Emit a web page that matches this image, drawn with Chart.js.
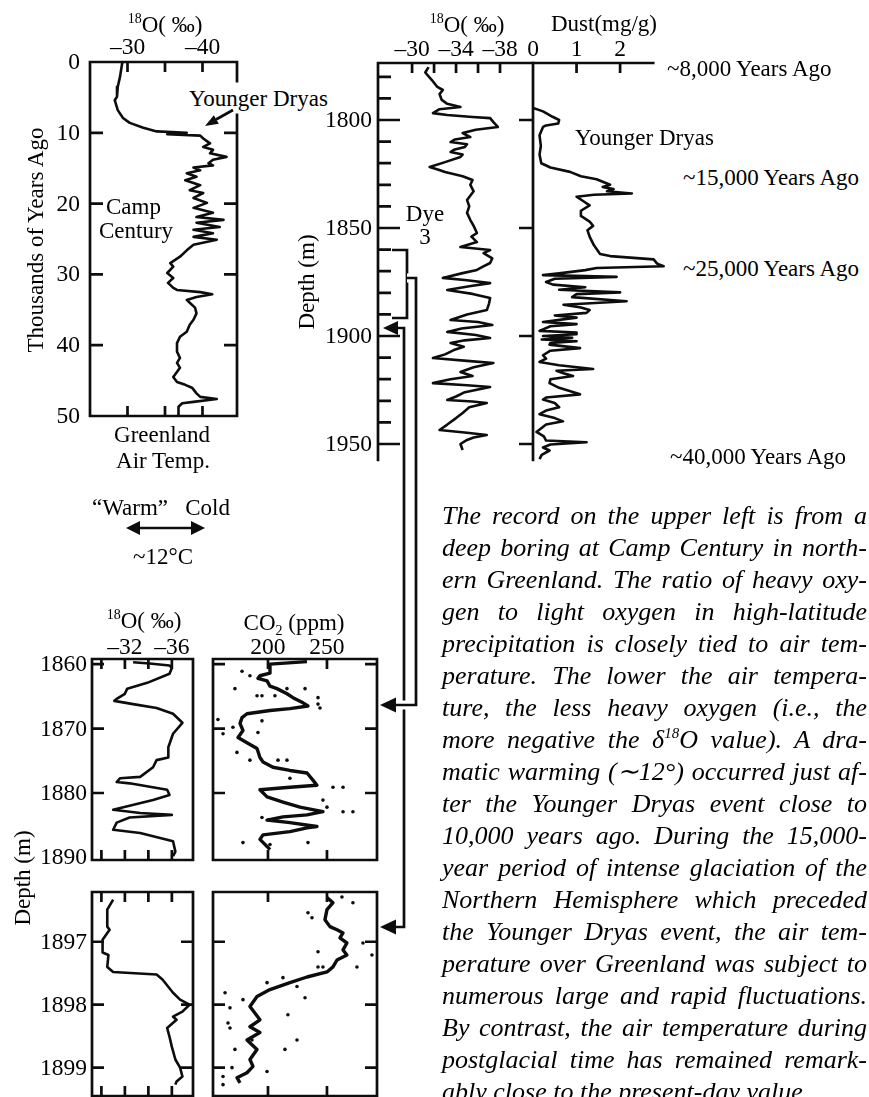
<!DOCTYPE html>
<html>
<head>
<meta charset="utf-8">
<title>Greenland ice cores</title>
<script src="https://cdn.jsdelivr.net/npm/chart.js@4.4.1/dist/chart.umd.min.js"></script>
<style>
  html, body { margin: 0; padding: 0; background: #fff; }
  #page { position: relative; width: 869px; height: 1097px; overflow: hidden; background: #fff;
          font-family: 'Liberation Serif', 'Times New Roman', serif; color: #000; }
  canvas { position: absolute; }
  svg { position: absolute; left: 0; top: 0; }
  .lbl { position: absolute; white-space: nowrap; line-height: 1; font-size: 23px; }
  .tick { font-size: 23.5px; }
  .lbl sup { font-size: 14px; vertical-align: 9px; line-height: 0; }
  .para { position: absolute; left: 442px; width: 425px; height: 32px; line-height: 32px;
          font-style: italic; font-size: 26px; white-space: nowrap;
          text-align: justify; text-align-last: justify; }
  .para.last { text-align-last: left; }
  .para sup { font-size: 15px; vertical-align: 10px; line-height: 0; }
</style>
</head>
<body>
<div id="page"></div>
<script>
const INK = '#0d0d0d';
const PAD = 14;

// Camp Century: age (thousands of years) vs delta 18O (per mil)
const campAge = [0.1, 2.1, 3.5, 4.9, 5.4, 6.8, 7.9, 8.6, 9.3, 9.8,
                 10.0, 10.2, 10.4, 10.8, 11.5, 12.0, 12.4, 12.9, 13.4, 13.8,
                 14.3, 14.6, 14.9, 15.3, 15.7, 16.2, 16.7, 17.4, 18.1, 18.5,
                 19.2, 19.9, 20.6, 21.3, 21.9, 22.3, 22.7, 23.3, 23.7, 24.2,
                 24.7, 25.1, 25.8, 26.6, 27.5, 28.4, 28.9, 29.8, 30.5, 31.2,
                 31.9, 32.2, 32.5, 32.8, 33.2, 33.6, 34.0, 34.7, 35.5, 36.4,
                 37.1, 38.1, 38.8, 39.7, 40.9, 41.8, 42.5, 43.2, 44.5, 45.2,
                 45.6, 46.0, 46.8, 47.3, 47.6, 48.0, 48.2, 48.7, 50.0];
const campO18 = [-29.3, -29.0, -28.7, -28.6, -28.3, -28.7, -29.4, -30.3, -32.1, -33.9,
                 -37.9, -35.3, -39.7, -40.1, -41.0, -40.1, -41.4, -41.0, -43.2, -41.4,
                 -40.8, -41.4, -38.8, -39.7, -37.9, -39.2, -37.7, -39.7, -38.3, -40.1,
                 -38.8, -40.6, -38.8, -41.4, -39.2, -42.8, -39.2, -42.3, -38.8, -41.4,
                 -38.8, -41.9, -38.8, -37.9, -37.0, -35.7, -36.1, -35.3, -36.1, -35.4,
                 -36.1, -36.6, -39.7, -41.3, -39.2, -37.9, -38.3, -39.0, -39.2, -38.8,
                 -38.3, -37.9, -37.0, -36.6, -36.6, -37.0, -36.6, -37.0, -36.1, -36.6,
                 -37.7, -38.6, -39.2, -39.7, -41.9, -38.8, -37.3, -36.8, -36.8];

// Dye 3: depth (m) vs delta 18O
const dyeDepth = [1775.5, 1778, 1781.5, 1784.7, 1786.1, 1788, 1790.7, 1792.5, 1794.0, 1795,
                  1796.8, 1797.7, 1798.6, 1799.1, 1801, 1803.2, 1804.5, 1806.0, 1807.9, 1809,
                  1810.2, 1811.2, 1812.5, 1813.8, 1814.8, 1816, 1817.1, 1819.5, 1821.8, 1823,
                  1824.1, 1826, 1827.8, 1830, 1833, 1837.0, 1840, 1843, 1846.3, 1849,
                  1852.3, 1854, 1856.5, 1858.8, 1860.2, 1861.6, 1864, 1866.2, 1868, 1869.4,
                  1871, 1873.1, 1874.2, 1875.5, 1877, 1878.7, 1880.5, 1882.4, 1885, 1888.0,
                  1890, 1892.6, 1893.5, 1894.9, 1896.5, 1898.1, 1899.5, 1900.9, 1902, 1903.2,
                  1905, 1906.5, 1908.5, 1910.2, 1911.5, 1912.5, 1914.5, 1916.7, 1918.5, 1920,
                  1921.8, 1922.8, 1923.6, 1926, 1928, 1929.6, 1930.3, 1931.0, 1933, 1935.6,
                  1938, 1941, 1943.5, 1944.8, 1945.8, 1947, 1948.1, 1950, 1952.8];
const dyeO18 = [-31.5, -31.2, -31.8, -32.3, -32.8, -32.5, -32.7, -33.2, -34.4, -32.5,
                -31.9, -33.2, -35.5, -37.1, -37.4, -37.8, -35.8, -34.6, -35.3, -33.9,
                -33.5, -35.0, -34.8, -33.8, -33.5, -34.6, -34.4, -33.0, -31.6, -32.4,
                -33.0, -34.6, -35.5, -35.3, -35.6, -35.0, -35.2, -35.0, -35.3, -35.6,
                -35.9, -35.4, -35.9, -34.4, -37.1, -36.5, -37.3, -37.1, -36.4, -35.9,
                -34.5, -32.8, -35.0, -37.1, -35.2, -33.2, -35.5, -37.1, -37.0, -36.8,
                -35.0, -33.5, -36.0, -37.3, -34.5, -33.2, -35.8, -37.1, -34.8, -33.5,
                -34.7, -33.8, -33.0, -31.9, -35.0, -37.4, -35.6, -34.4, -35.5, -33.5,
                -31.9, -35.0, -37.1, -34.8, -34.0, -33.2, -35.5, -36.8, -35.2, -34.6,
                -34.0, -33.2, -32.5, -35.0, -36.8, -35.6, -35.0, -34.4, -34.6];

// Dye 3: depth (m) vs dust (mg/g)
const dustDepth = [1794.4, 1796.0, 1798.5, 1800.0, 1801.6, 1802.5, 1803.2, 1807.0, 1812, 1816,
                   1820.0, 1822, 1824.0, 1826, 1827.4, 1830.0, 1831, 1832.0, 1833, 1834.0,
                   1834.6, 1835.5, 1837.5, 1839.5, 1842, 1844.4, 1847, 1849.0, 1851, 1854.0,
                   1858, 1862.0, 1863.0, 1864.5, 1866.5, 1867.7, 1868.5, 1869.5, 1871.0, 1871.8,
                   1872.6, 1873.5, 1875.0, 1876.2, 1877.4, 1878.6, 1879.8, 1880.6, 1882, 1883.9,
                   1885.5, 1886.8, 1888.0, 1889.3, 1890.5, 1891.5, 1893.5, 1894.5, 1895.5, 1897.6,
                   1898.4, 1899.2, 1900.0, 1900.8, 1901.6, 1902.4, 1903.2, 1904.0, 1905.6, 1906.8,
                   1908.9, 1910.5, 1912.0, 1913.5, 1915.3, 1916.1, 1917.2, 1918.5, 1920, 1921.8,
                   1924, 1927.0, 1928.5, 1929.4, 1931, 1933.0, 1934.5, 1936.2, 1938, 1939.5,
                   1941, 1944.4, 1946.5, 1948.4, 1949.2, 1950.2, 1951.6, 1953.0, 1955, 1957.0];
const dustConc = [0.00, 0.23, 0.45, 0.60, 0.58, 0.30, 0.23, 0.15, 0.18, 0.15,
                  0.19, 0.40, 0.85, 1.10, 1.46, 1.77, 1.60, 1.85, 1.70, 2.27,
                  1.40, 1.00, 1.15, 1.30, 1.10, 1.10, 1.30, 1.38, 1.25, 1.30,
                  1.40, 1.54, 1.77, 2.77, 2.85, 3.00, 1.46, 1.20, 0.60, 0.23,
                  1.92, 0.50, 0.30, 0.46, 1.20, 0.60, 2.00, 1.00, 0.90, 2.15,
                  0.70, 1.10, 1.30, 1.23, 0.50, 1.00, 0.23, 1.00, 0.40, 0.15,
                  1.00, 1.00, 0.23, 0.90, 0.20, 1.00, 0.40, 0.38, 1.08, 0.40,
                  0.23, 0.30, 0.15, 0.60, 1.38, 0.54, 0.70, 0.92, 0.40, 0.38,
                  0.60, 1.08, 0.30, 0.23, 0.50, 0.60, 0.30, 0.15, 0.50, 0.69,
                  0.30, 0.08, 0.25, 0.30, 1.23, 0.40, 0.23, 0.38, 0.20, 0.15];

// detailed core sections, 1860-1890 m
const upO18Depth = [1859.7, 1859.9, 1860.2, 1860.6, 1861.5, 1862.9, 1863.8, 1864.6, 1865.4, 1865.7,
                    1866.2, 1866.8, 1867.7, 1869.1, 1870.8, 1872.9, 1874.5, 1874.9, 1876.0, 1877.5,
                    1877.7, 1878.3, 1878.5, 1879.5, 1880.3, 1881.1, 1882.6, 1883.1, 1883.4, 1883.8,
                    1884.6, 1885.7, 1886.2, 1887.5, 1889.1, 1889.8];
const upO18 = [-32.7, -34.1, -35.8, -36.0, -35.8, -33.9, -32.2, -32.0, -31.3, -31.1,
               -32.7, -34.7, -36.1, -36.9, -36.1, -35.7, -35.7, -34.7, -34.4, -33.3,
               -31.6, -31.3, -32.4, -35.6, -35.8, -34.4, -31.0, -33.3, -36.0, -32.4,
               -31.3, -31.0, -33.3, -36.1, -36.3, -36.1];

const upCo2Depth = [1859.6, 1860.0, 1860.6, 1861.4, 1861.8, 1862.2, 1862.6, 1863.4, 1863.8, 1864.6,
                    1865.2, 1866.0, 1866.5, 1866.9, 1867.2, 1867.7, 1868.3, 1869.2, 1870.3, 1871.4,
                    1872.2, 1873.1, 1874.5, 1875.2, 1876.0, 1876.5, 1876.9, 1878.0, 1878.8, 1879.1,
                    1879.5, 1880.6, 1881.4, 1882.2, 1882.9, 1883.4, 1883.7, 1884.2, 1884.6, 1885.2,
                    1885.4, 1886.0, 1886.5, 1887.2, 1888.3, 1888.8];
const upCo2 = [233.0, 201.7, 201.7, 201.7, 193.2, 191.5, 199.2, 201.7, 207.6, 216.1,
               221.2, 229.7, 233.9, 218.6, 201.7, 182.2, 178.0, 176.3, 178.8, 174.6,
               182.2, 190.7, 193.2, 195.8, 204.2, 218.6, 233.1, 238.1, 241.5, 218.6,
               193.2, 199.2, 212.7, 227.1, 246.6, 233.1, 212.7, 199.2, 218.6, 241.5,
               233.1, 218.6, 195.8, 193.2, 199.2, 201.7];
const upCo2DotDepth = [1861.1, 1861.8, 1863.8, 1864.9, 1864.9, 1864.9, 1863.8, 1863.8, 1865.2, 1866.2,
                       1866.8, 1868.6, 1870.8, 1869.8, 1868.8, 1870.6, 1873.7, 1874.9, 1874.9, 1874.9,
                       1877.7, 1879.1, 1879.1, 1881.1, 1882.2, 1882.9, 1882.9, 1883.8, 1887.7, 1887.7,
                       1888.0];
const upCo2Dot = [178.0, 184.7, 172.0, 190.7, 194.9, 205.9, 216.1, 231.4, 242.4, 242.4,
                  244.1, 157.6, 161.9, 170.3, 194.9, 191.5, 173.7, 184.7, 208.5, 216.1,
                  218.6, 255.1, 263.6, 246.6, 250.0, 263.6, 272.0, 194.9, 178.8, 233.9,
                  201.7];

// detailed core sections, 1896-1899.5 m
const loO18Depth = [1896.33, 1896.49, 1896.76, 1896.81, 1896.97, 1897.17, 1897.21, 1897.40, 1897.48, 1897.52,
                    1897.60, 1897.81, 1897.92, 1898.00, 1898.11, 1898.19, 1898.24, 1898.37, 1898.51, 1898.67,
                    1898.87, 1899.00, 1899.14, 1899.22, 1899.27];
const loO18 = [-31.0, -30.5, -30.5, -30.7, -30.1, -30.1, -30.6, -30.5, -31.0, -34.7,
               -35.2, -36.1, -36.7, -37.5, -36.9, -36.1, -36.4, -35.6, -35.8, -36.0,
               -36.3, -36.7, -36.9, -36.4, -36.3];

const loCo2Depth = [1896.30, 1896.38, 1896.49, 1896.65, 1896.76, 1896.81, 1896.86, 1896.94, 1897.02, 1897.13,
                    1897.21, 1897.29, 1897.40, 1897.48, 1897.56, 1897.65, 1897.76, 1897.87, 1898.03, 1898.24,
                    1898.35, 1898.44, 1898.56, 1898.71, 1898.87, 1898.98, 1899.08, 1899.16, 1899.24];
const loCo2 = [250.0, 255.1, 250.0, 248.3, 252.5, 258.5, 263.6, 261.0, 266.9, 263.6,
               266.9, 258.5, 255.1, 250.0, 233.1, 218.6, 201.7, 190.7, 184.7, 193.2,
               184.7, 193.2, 182.2, 190.7, 184.7, 187.3, 182.2, 173.7, 176.3];
const loCo2DotDepth = [1896.29, 1896.38, 1896.54, 1896.62, 1897.16, 1897.40, 1897.40, 1897.40, 1897.02, 1897.21,
                       1897.89, 1898.16, 1898.56, 1898.71, 1897.65, 1897.57, 1897.71, 1897.81, 1898.05, 1898.29,
                       1898.37, 1897.92, 1898.56, 1898.71, 1899.00, 1899.06, 1899.14, 1899.27];
const loCo2Dot = [262.7, 272.0, 233.9, 237.3, 242.4, 242.4, 246.6, 275.4, 280.5, 288.1,
                  231.4, 216.9, 224.6, 214.4, 199.2, 212.7, 224.6, 163.6, 167.8, 166.1,
                  167.8, 178.8, 186.4, 172.0, 169.5, 199.2, 161.9, 161.9];

// tick values and labels
const campAgeTicks = [0, 10, 20, 30, 40, 50];
const campO18Ticks = [-30, -35, -40];
const campO18Labels = [-30, -40];
const dyeDepthTicks = [1780, 1790, 1800, 1810, 1820, 1830, 1840, 1850, 1860, 1870,
                       1880, 1890, 1900, 1910, 1920, 1930, 1940, 1950];
const dyeDepthLabels = [1800, 1850, 1900, 1950];
const dyeO18Ticks = [-30, -32, -34, -36, -38];
const dyeO18Labels = [-30, -34, -38];
const dustTicks = [1, 2];
const dustLabels = [0, 1, 2];
const coreO18Ticks = [-30, -32, -34, -36];
const coreO18Labels = [-32, -36];
const co2Ticks = [200, 250];
const upDepthTicks = [1860, 1870, 1880];
const upDepthLabels = [1860, 1870, 1880, 1890];
const loDepthTicks = [1897, 1898, 1899];

const page = document.getElementById('page');

function pairs(ys, xs) {
  return xs.map((v, i) => ({ x: v, y: ys[i] }));
}

function line(data, width) {
  return { data, showLine: true, borderColor: INK, borderWidth: width || 2.6,
           pointRadius: 0, tension: 0, fill: false, borderJoinStyle: 'round' };
}

function dots(data) {
  return { data, showLine: false, pointRadius: 1.8, pointBackgroundColor: INK,
           pointBorderWidth: 0 };
}

// box border and inward tick marks, placed with the chart scales
const framePlugin = {
  id: 'frame',
  afterDatasetsDraw(chart, args, o) {
    const { ctx, chartArea: a } = chart;
    const sx = chart.scales.x, sy = chart.scales.y;
    ctx.save();
    ctx.strokeStyle = INK;
    ctx.lineWidth = 2.7;
    ctx.lineCap = 'square';
    ctx.beginPath();
    (o.sides || []).forEach(s => {
      if (s === 'top') {
        ctx.moveTo(a.left, a.top);
        ctx.lineTo(o.topTo != null ? sx.getPixelForValue(o.topTo) : a.right, a.top);
      }
      if (s === 'bottom') { ctx.moveTo(a.left, a.bottom); ctx.lineTo(a.right, a.bottom); }
      if (s === 'left') { ctx.moveTo(a.left, a.top); ctx.lineTo(a.left, a.bottom); }
      if (s === 'right') { ctx.moveTo(a.right, a.top); ctx.lineTo(a.right, a.bottom); }
    });
    ctx.stroke();
    ctx.lineCap = 'butt';
    ctx.beginPath();
    (o.ticks || []).forEach(t => {
      t.values.forEach(v => {
        const len = typeof t.len === 'function' ? t.len(v) : t.len;
        if (t.side === 'left' || t.side === 'right' || t.side === 'leftOut') {
          const py = sy.getPixelForValue(v);
          const x0 = t.side === 'right' ? a.right : a.left;
          const x1 = t.side === 'left' ? a.left + len : t.side === 'right' ? a.right - len : a.left - len;
          ctx.moveTo(x0, py); ctx.lineTo(x1, py);
        } else {
          const px = sx.getPixelForValue(v);
          const y0 = t.side === 'top' ? a.top : a.bottom;
          const y1 = t.side === 'top' ? a.top + len : a.bottom - len;
          ctx.moveTo(px, y0); ctx.lineTo(px, y1);
        }
      });
    });
    ctx.stroke();
    ctx.restore();
  }
};

function panel(box, xr, yr, datasets, frame) {
  const c = document.createElement('canvas');
  c.width = box.w + 2 * PAD;
  c.height = box.h + 2 * PAD;
  c.style.left = (box.x - PAD) + 'px';
  c.style.top = (box.y - PAD) + 'px';
  page.appendChild(c);
  const chart = new Chart(c, {
    type: 'scatter',
    data: { datasets },
    options: {
      responsive: false,
      animation: false,
      devicePixelRatio: 1,
      layout: { padding: PAD },
      plugins: { legend: { display: false }, tooltip: { enabled: false }, frame },
      scales: {
        x: { type: 'linear', display: false, min: xr[0], max: xr[1], reverse: !!xr[2] },
        y: { type: 'linear', display: false, min: yr[0], max: yr[1], reverse: true }
      }
    },
    plugins: [framePlugin]
  });
  chart.left0 = box.x - PAD;
  chart.top0 = box.y - PAD;
  return chart;
}

function text(html, x, y, anchor, cls) {
  const d = document.createElement('div');
  d.className = 'lbl ' + (cls || '');
  d.innerHTML = html;
  d.style.left = x + 'px';
  d.style.top = y + 'px';
  const tx = anchor === 'r' ? '-100%' : anchor === 'l' ? '0' : '-50%';
  d.style.transform = 'translate(' + tx + ',-50%)';
  page.appendChild(d);
  return d;
}

function vtext(html, x, y) {
  const d = text(html, x, y, 'c');
  d.style.transform = 'translate(-50%,-50%) rotate(-90deg)';
  return d;
}

const neg = v => (v < 0 ? '\u2013' : '') + Math.abs(v);

function xLabels(chart, values, y, fmt) {
  values.forEach(v => text(fmt(v), chart.left0 + chart.scales.x.getPixelForValue(v), y, 'c', 'tick'));
}

function yLabels(chart, values, x) {
  values.forEach(v => text(String(v), x, chart.top0 + chart.scales.y.getPixelForValue(v), 'r', 'tick'));
}

// ---- Camp Century ----
const camp = panel({ x: 90, y: 62, w: 147, h: 354 }, [-44.6, -25, true], [0, 50],
  [line(pairs(campAge, campO18))],
  { sides: ['top', 'left', 'right', 'bottom'],
    ticks: [{ side: 'top', values: campO18Ticks, len: 10 },
            { side: 'bottom', values: campO18Ticks, len: 10 },
            { side: 'left', values: campAgeTicks.slice(1, 5), len: 13 },
            { side: 'right', values: campAgeTicks.slice(1, 5), len: 13 }] });
xLabels(camp, campO18Labels, 47, neg);
yLabels(camp, campAgeTicks, 80);
text('<sup>18</sup>O( \u2030)', 165, 24, 'c');
vtext('Thousands of Years Ago', 35, 240);
const yd = text('Younger Dryas', 189, 98, 'l');
yd.style.background = '#fff';
yd.style.padding = '4px 0';
text('Camp', 106, 206, 'l');
text('Century', 99, 230, 'l');
text('Greenland', 162, 434, 'c');
text('Air Temp.', 163, 460, 'c');
text('\u201cWarm\u201d&nbsp;&nbsp;&nbsp;Cold', 161, 507, 'c');
text('~12\u00b0C', 163, 556, 'c');

// ---- Dye 3 ----
const dye = panel({ x: 378, y: 63, w: 155, h: 397 }, [-41.0, -26.9, true], [1773.6, 1957.4],
  [line(pairs(dyeDepth, dyeO18))],
  { sides: ['top', 'left'],
    ticks: [{ side: 'top', values: dyeO18Ticks, len: 10 },
            { side: 'left', values: dyeDepthTicks, len: v => (v % 50 === 0 ? 22 : 13) }] });
xLabels(dye, dyeO18Labels, 49, neg);
yLabels(dye, dyeDepthLabels, 372);
text('<sup>18</sup>O( \u2030)', 467, 24, 'c');
vtext('Depth (m)', 306, 282);
text('Dye', 425, 213, 'c');
text('3', 425, 236, 'c');

const dust = panel({ x: 533, y: 63, w: 135, h: 397 }, [0, 3.1], [1773.6, 1957.4],
  [line(pairs(dustDepth, dustConc))],
  { sides: ['top', 'left'], topTo: 2.76,
    ticks: [{ side: 'top', values: dustTicks, len: 10 },
            { side: 'leftOut', values: dyeDepthLabels, len: 20 }] });
xLabels(dust, dustLabels, 49, v => String(v));
text('Dust(mg/g)', 604, 23, 'c');
text('Younger Dryas', 575, 137, 'l');
text('~8,000 Years Ago', 667, 68, 'l');
text('~15,000 Years Ago', 683, 177, 'l');
text('~25,000 Years Ago', 683, 268, 'l');
text('~40,000 Years Ago', 670, 456, 'l');

// ---- core detail, 1860-1890 m ----
const upO = panel({ x: 92, y: 659, w: 101, h: 201 }, [-37.8, -29.2, true], [1859.2, 1890.4],
  [line(pairs(upO18Depth, upO18))],
  { sides: ['top', 'left', 'right', 'bottom'],
    ticks: [{ side: 'top', values: coreO18Ticks, len: 10 },
            { side: 'bottom', values: coreO18Ticks, len: 10 },
            { side: 'left', values: upDepthTicks, len: 12 }] });
xLabels(upO, coreO18Labels, 647, neg);
yLabels(upO, upDepthLabels, 87);
text('<sup>18</sup>O( \u2030)', 144, 620, 'c');

const upC = panel({ x: 213, y: 659, w: 164, h: 201 }, [153.4, 292.4], [1859.2, 1890.4],
  [line(pairs(upCo2Depth, upCo2), 3.4), dots(pairs(upCo2DotDepth, upCo2Dot))],
  { sides: ['top', 'left', 'right', 'bottom'],
    ticks: [{ side: 'top', values: co2Ticks, len: 10 },
            { side: 'bottom', values: co2Ticks, len: 10 },
            { side: 'left', values: upDepthTicks, len: 12 },
            { side: 'right', values: upDepthTicks, len: 12 }] });
xLabels(upC, co2Ticks, 647, v => String(v));
text('CO<sub style="font-size:14px;line-height:0">2</sub> (ppm)', 294, 622, 'c');

// ---- core detail, 1896-1899.5 m ----
const loO = panel({ x: 92, y: 892, w: 101, h: 204 }, [-37.8, -29.2, true], [1896.21, 1899.45],
  [line(pairs(loO18Depth, loO18))],
  { sides: ['top', 'left', 'right', 'bottom'],
    ticks: [{ side: 'top', values: coreO18Ticks, len: 10 },
            { side: 'bottom', values: coreO18Ticks, len: 10 },
            { side: 'left', values: loDepthTicks, len: 12 },
            { side: 'right', values: loDepthTicks, len: 12 }] });
yLabels(loO, loDepthTicks, 87);
vtext('Depth (m)', 22, 878);

const loC = panel({ x: 213, y: 892, w: 164, h: 204 }, [153.4, 292.4], [1896.21, 1899.45],
  [line(pairs(loCo2Depth, loCo2), 3.4), dots(pairs(loCo2DotDepth, loCo2Dot))],
  { sides: ['top', 'left', 'right', 'bottom'],
    ticks: [{ side: 'top', values: co2Ticks, len: 10 },
            { side: 'bottom', values: co2Ticks, len: 10 },
            { side: 'left', values: loDepthTicks, len: 12 },
            { side: 'right', values: loDepthTicks, len: 12 }] });

// ---- arrows and connectors ----
const svg = `
<svg width="869" height="1097" xmlns="http://www.w3.org/2000/svg">
  <g fill="none" stroke="${INK}" stroke-width="2.7">
    <path d="M233,110 L216,119.5"/>
    <path d="M140,528 H191"/>
    <path d="M392,250 H407 V318 H392"/>
    <path d="M397,328 H404 V927 H395"/>
    <path d="M407,278 H416 V705 H395" stroke="#fff" stroke-width="9"/>
    <path d="M407,278 H416 V705 H395"/>
  </g>
  <g fill="${INK}">
    <polygon points="205,126 218.8,123.8 213.8,115.2"/>
    <polygon points="126,528 140,521 140,535"/>
    <polygon points="205,528 191,521 191,535"/>
    <polygon points="383,328 398,321 398,335"/>
    <polygon points="380,705 396,697.5 396,712.5"/>
    <polygon points="380,927 396,919.5 396,934.5"/>
  </g>
</svg>`;
page.insertAdjacentHTML('beforeend', svg);

// ---- caption ----
const caption = [
  'The record on the upper left is from a',
  'deep boring at Camp Century in north-',
  'ern Greenland. The ratio of heavy oxy-',
  'gen to light oxygen in high-latitude',
  'precipitation is closely tied to air tem-',
  'perature. The lower the air tempera-',
  'ture, the less heavy oxygen (i.e., the',
  'more negative the \u03b4<sup>18</sup>O value). A dra-',
  'matic warming (\u223c12\u00b0) occurred just af-',
  'ter the Younger Dryas event close to',
  '10,000 years ago. During the 15,000-',
  'year period of intense glaciation of the',
  'Northern Hemisphere which preceded',
  'the Younger Dryas event, the air tem-',
  'perature over Greenland was subject to',
  'numerous large and rapid fluctuations.',
  'By contrast, the air temperature during',
  'postglacial time has remained remark-',
  'ably close to the present-day value.'
];
caption.forEach((s, i) => {
  const d = document.createElement('div');
  d.className = 'para' + (i === caption.length - 1 ? ' last' : '');
  d.style.top = (500 + 32 * i) + 'px';
  d.innerHTML = s;
  page.appendChild(d);
});
</script>
</body>
</html>
